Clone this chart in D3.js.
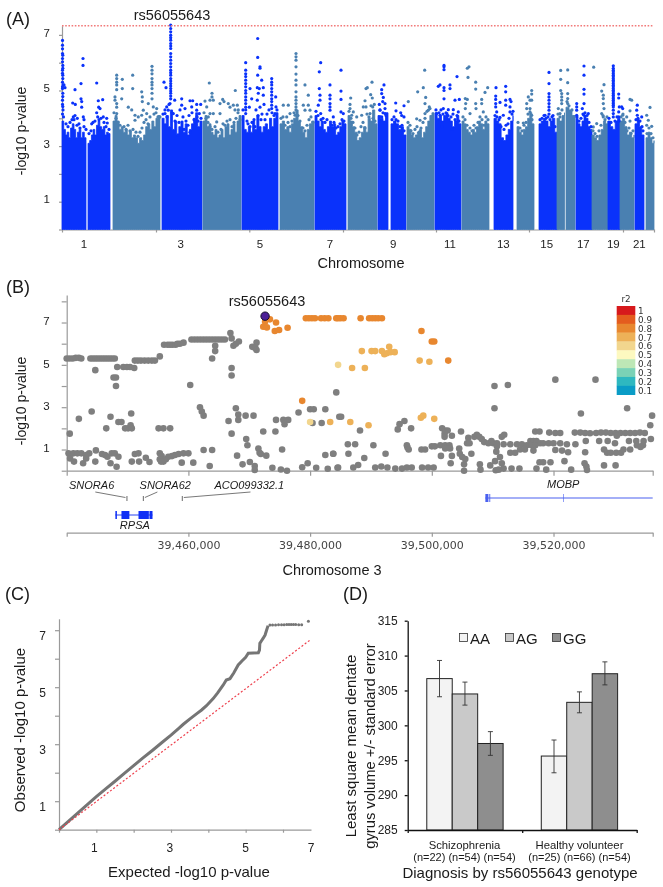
<!DOCTYPE html>
<html lang="en">

<head>
    <script src="https://d3js.org/d3.v7.min.js"></script>
    <meta charset="utf-8" />
    <style>
        body { margin: 0; background: #fff; }
        svg { display: block; font-family: "Liberation Sans", Arial, sans-serif; }
        .axis path, .axis line { stroke: #9a9a9a; stroke-width: 1.2; }
        .axis text { fill: #222; font-family: "Liberation Sans", Arial, sans-serif; }
    </style>
</head>

<body>
    <script>

        // ---- (A) Manhattan plot. Genome position is in units of about 5 Mb from the start of chr1
        const chromSegments = [
            [1, 0, 24], [1, 26, 48], [2, 51, 98], [3, 100, 140], [4, 141, 179], [5, 180, 216], [6, 218, 252],
            [7, 253, 284], [8, 286, 315], [9, 316, 326], [9, 329, 344], [10, 345, 372], [11, 373, 399],
            [12, 400, 427], [13, 432, 451], [14, 455, 472], [15, 477, 495], [16, 495, 502.5], [16, 504, 513],
            [17, 514, 530], [18, 530, 546], [19, 546, 558], [20, 558, 572], [21, 573, 582], [22, 584, 592]
        ];
        // top of the solid part of each segment, read left to right
        const segmentTops = [
            [3.9, 3.6, 3.4, 3.5, 3.3, 3.65, 3.8, 3.6, 3.3, 3.5, 3.6, 3.3, 3.5, 3.3, 3.2],
            [3.1, 3.2, 3.4, 3.6, 3.4, 3.75, 3.9, 3.7, 3.6, 3.7, 3.4, 3.5, 3.45, 3.3],
            [3.9, 4.1, 3.9, 3.6, 3.7, 3.5, 3.6, 3.4, 3.55, 3.3, 3.4, 3.3, 3.1, 3.3, 3.2, 3.4, 3.7, 3.8, 3.6, 3.9, 3.7, 4, 4.1, 3.9],
            [4.0, 3.8, 4.1, 3.7, 4.3, 3.6, 3.9, 3.4, 3.7, 3.9, 3.5, 3.8, 3.4, 3.6, 3.8, 4, 4.2, 3.7, 3.9, 3.6],
            [3.9, 4.1, 3.7, 3.8, 3.5, 3.4, 3.6, 3.3, 3.4, 3.6, 3.3, 3.7, 3.8, 3.4, 3.6, 3.8, 3.5, 3.9, 4.1, 3.7],
            [4.1, 3.6, 3.5, 3.7, 3.5, 3.9, 3.6, 4.1, 3.7, 3.5, 3.7, 3.8, 3.6, 4.0, 3.7, 4.0, 4.2, 4.1],
            [3.8, 3.9, 3.6, 3.7, 3.5, 3.8, 4, 4.3, 3.9, 3.7, 3.5, 3.3, 3.6, 3.8, 3.9, 3.7],
            [4.1, 3.9, 3.7, 3.9, 3.6, 3.5, 3.7, 3.9, 3.7, 3.8, 3.4, 3.5, 3.7, 3.9, 3.8, 3.6],
            [4.1, 3.9, 3.7, 3.5, 3.2, 3.3, 3.5, 3.7, 3.5, 4, 3.9, 4.3, 3.8, 3.7],
            [4.1, 4.0, 3.9, 4.2, 3.8],
            [3.8, 3.9, 3.8, 3.6, 3.7, 3.4, 3.3],
            [3.7, 3.6, 3.4, 3.3, 3.4, 3.5, 3.6, 3.3, 3.5, 3.7, 3.9, 4.1, 4.2, 3.9],
            [4.2, 4.0, 4.1, 3.9, 4.1, 4.2, 4, 3.9, 3.7, 3.9, 4.1, 3.8, 3.7],
            [3.9, 3.8, 3.6, 3.5, 3.4, 3.6, 3.5, 3.7, 3.9, 3.8, 3.6, 3.9, 3.8, 3.5],
            [4.0, 3.9, 3.8, 3.3, 3.2, 3.4, 3.6, 3.9, 4.1],
            [3.7, 3.5, 3.4, 3.6, 3.7, 4.0, 4.2, 3.8, 3.6],
            [3.8, 3.9, 4.0, 3.9, 3.7, 3.9, 4.0, 3.5, 3.3],
            [4.0, 3.9, 4.1, 4.2],
            [4.4, 4.3, 4.1, 3.9],
            [4, 3.8, 3.7, 3.9, 4.1, 4, 3.7, 3.6, 3.4],
            [3.4, 3.3, 3.2, 3.4, 3.6, 3.9, 3.8, 3.9],
            [3.9, 3.7, 3.6, 3.9, 4, 3.8],
            [3.9, 4.0, 3.7, 3.4, 3.5, 3.3, 3.4],
            [3.8, 3.9, 3.7, 3.4, 3.2],
            [3.3, 3.5, 3.3, 3.1, 3.2]
        ];
        const hitsBlue = [
            [.5, 6.8], [.5, 6.63], [.5, 6.33], [.8, 6.27], [.5, 6.03], [.8, 5.9], [.5, 5.73], [.8, 5.55], [.5, 5.3], [1, 5.2], [.5, 5.07], [.8, 4.9], [.5, 4.65], [1, 4.3], [.5, 4.15], [3, 5.1], [2, 5.2],
            [.5, 6.5], [.5, 6.15], [.8, 5.8], [.5, 5.62], [.8, 5.43], [.5, 5.13], [.8, 4.78], [.5, 4.5], [.8, 4.42], [1.5, 4.05],
            [13, 5.03], [21, 6.15], [21, 5.9], [19, 5.25], [19, 4.7], [19.7, 4.6], [19.7, 4.4], [10.7, 4.55], [13.3, 4.5], [13, 4.1], [11.3, 4.05], [15.3, 4], [21.3, 4.05], [22, 3.95],
            [34.7, 5.27], [40.7, 4.67], [36.3, 4.63], [36.7, 4.4], [38, 4.35], [34.7, 4.2], [35.7, 4.05], [44.7, 4], [41.3, 4.05], [29.7, 3.8], [45.3, 3.83],
            [108.7, 7.35], [108.7, 7.23], [108.7, 7.11], [108.7, 6.99], [108.7, 6.81], [108.7, 6.69], [108.7, 6.51], [108.7, 6.33], [108.7, 6.21], [108.7, 6.09], [108.7, 5.97], [108.7, 5.85], [108.7, 5.73], [108.7, 5.55], [108.7, 5.43], [108.7, 5.25], [108.7, 5.07], [108.7, 4.9], [108.7, 4.7],
            [108.7, 6.9], [108.7, 6.6], [108.7, 5.64], [108.7, 5.34], [108.7, 5.16], [108.7, 4.98], [108.7, 4.8],
            [102, 5.3], [104, 5.1], [112.7, 4.65], [119.7, 4.7], [128, 4.63], [130.7, 4.63], [134.7, 4.5], [138.7, 4.5], [104.7, 4.41], [108, 4.53], [106.3, 4.29], [103, 4.17], [111.3, 4.17], [119.7, 4.47], [123, 4.35], [129.7, 4.41], [134.7, 4.29], [137.3, 4.17],
            [183.7, 6], [183.7, 5.73], [183.7, 5.6], [183.7, 5.5], [183.7, 5.37], [183.7, 5.25], [183.7, 5.13], [183.7, 5], [183.7, 4.9], [183.7, 4.77], [183.7, 4.65], [183.7, 4.53], [183.7, 4.4], [183.7, 4.3], [183.7, 4.17],
            [195.7, 6.87], [195.7, 6.19], [198, 5.85], [198, 5.8], [195.7, 5.55], [199.7, 5.37], [195.3, 5.1], [197.3, 5.07], [196.3, 4.9], [201.3, 5.1], [201.3, 4.83], [195.3, 4.65], [188, 5.07], [189.7, 4.7], [187.3, 4.4], [198, 4.4], [202, 4.5], [194, 4.3],
            [209.7, 5.43], [209.7, 5.3], [209.7, 5.2], [209.7, 5.07], [209.7, 4.95], [209.7, 4.83], [209.7, 4.7], [209.7, 4.6], [209.7, 4.47], [209.7, 4.35], [213.7, 4.77], [214, 4.41], [213, 4.17],
            [258.7, 6], [257.3, 5.67], [257.3, 5.07], [268, 5.2], [258, 4.83], [268, 4.83], [268, 4.7], [268, 4.53], [256.3, 4.47], [268, 4.41], [258, 4.65], [258.7, 4.17], [271.3, 4.05], [268, 4.29],
            [279, 5.73], [279, 4.98], [279, 4.68], [279, 4.23], [281.3, 4.17],
            [319.7, 5.03], [319.7, 4.89], [321.3, 4.75], [322, 5.2], [320.7, 4.6], [317.3, 4.5], [323, 4.53], [323, 4.35], [318, 4.29], [319.7, 4.05], [323, 4.17],
            [333.7, 4.55], [342, 4.45], [334, 4.27], [338.7, 4.2], [339.7, 4.1], [342, 4.05],
            [382, 5.9], [382, 5.85], [382, 5.75], [376.3, 5.15], [378, 5.2], [382, 5.1], [382, 5], [388, 5.2], [388, 5.07], [395, 5.5], [382, 4.7], [393, 4.65], [397.3, 4.68], [381.3, 4.35], [386.3, 4.31], [391.3, 4.31], [396.3, 4.23], [374.7, 4.17], [378, 4.11],
            [434, 5.1], [443.7, 5.15], [443.7, 4.95], [433.7, 4.8], [433.7, 4.68], [433.7, 4.53], [433.7, 4.41], [438, 4.57], [443.7, 4.65], [448, 4.68], [449, 4.6], [443.7, 4.47], [448, 4.41], [434.7, 4.23], [448, 4.23], [441.3, 4.11], [438, 4.03],
            [487, 5.65], [487, 5.25], [487, 4.89], [487, 4.77], [487, 4.65], [487, 4.53], [487, 4.41], [487, 4.29], [487, 4.15], [483, 4.11],
            [522, 5.88], [522, 5.55], [522, 5.04], [522, 4.87], [514.7, 4.53], [514.7, 4.41], [514.7, 4.29], [522, 4.53], [520.3, 4.35], [526.3, 4.17], [514.7, 4.11], [522, 4.11],
            [551.3, 5.89], [551.3, 5.73], [551.3, 5.61], [551.3, 5.49], [551.3, 5.37], [551.3, 5.25], [551.3, 5.13], [551.3, 5.01], [551.3, 4.89], [551.3, 4.77], [551.3, 4.65], [551.3, 4.53], [551.3, 4.41], [551.3, 4.29], [551.3, 4.17], [551.3, 4.05],
            [551.3, 5.8], [551.3, 5.67], [551.3, 5.55], [551.3, 5.43], [551.3, 5.31], [551.3, 5.19], [551.3, 5.07], [551.3, 4.95], [551.3, 4.83], [551.3, 4.71], [551.3, 4.59], [551.3, 4.47],
            [556.7, 4.87], [556.7, 4.73], [557.3, 4.41], [559.7, 4.41], [556.7, 4.23], [556.7, 4.05], [560.7, 4.35],
            [575.3, 4.47], [574.7, 4.29], [575.3, 4.11], [579.7, 4.05], [576.3, 3.93],
            // dots just above the solid part
            [4, 3.8], [6, 3.7], [8, 3.85], [10, 3.95], [12, 3.95], [15, 3.75], [17, 3.8], [18, 3.65], [22, 3.7], [24, 3.6], [27, 3.45], [29, 3.55], [31, 3.85], [33, 3.9], [37, 3.95], [39, 4], [42, 3.85], [44, 3.7], [47, 3.6],
            [101, 4.15], [103, 4.3], [105, 4.05], [107, 4.5], [110, 4.2], [113, 3.9], [115, 4.1], [117, 3.85], [118, 4.3], [121, 4.05], [124, 3.9], [126, 3.75], [127, 4.1], [130, 4.2], [132, 3.95], [135, 4.05], [136, 3.9], [139, 4.0], [122, 3.6], [116, 3.4], [128, 3.5],
            [181, 4.3], [185, 3.9], [186, 3.8], [190, 3.85], [192, 3.95], [196, 4.1], [199, 3.95], [200, 4.15], [203, 3.95], [205, 4.15], [207, 4.3], [210, 4.2], [212, 4.1], [215, 4.3], [193, 3.7], [188, 3.7],
            [254, 4.25], [256, 4.1], [259, 3.95], [261, 4], [263, 3.85], [265, 3.95], [270, 3.75], [272, 3.85], [274, 3.65], [276, 3.7], [278, 3.8], [280, 3.95], [282, 3.9],
            [318, 4.3], [321, 4.2], [324, 4.1], [330, 3.95], [332, 4.05], [334, 3.95], [336, 3.9], [338, 3.7], [340, 3.75], [342, 3.55],
            [374, 4.3], [377, 4.2], [379, 4.3], [381, 4.15], [384, 4.2], [386, 4.1], [389, 4.05], [391, 4.15], [393, 3.95], [395, 4.1], [397, 3.9], [380, 3.7], [390, 3.6],
            [433, 4.1], [435, 4.05], [437, 3.95], [439, 3.7], [442, 3.6], [444, 3.75], [446, 3.8], [447, 4.0], [450, 4.15], [451, 4.25],
            [478, 3.95], [480, 4], [482, 4.1], [484, 4], [486, 4.05], [488, 3.95], [490, 4.05], [491, 4.1], [493, 3.7],
            [515, 4.05], [517, 3.9], [519, 4], [521, 4.15], [523, 4.2], [525, 4.1], [527, 3.85], [529, 3.7],
            [547, 4], [549, 3.85], [553, 3.9], [555, 4.05], [557, 3.9],
            [574, 3.95], [576, 4], [578, 3.9], [580, 3.7], [581, 3.55]
        ];
        const hitsSteel = [
            [54.7, 5.55], [54.7, 5.43], [54.7, 5.3], [54.7, 5.2], [54.7, 5.03], [60.3, 5.4], [60.3, 5.07], [70.7, 5.55], [70.7, 5.07], [79.7, 4.95], [80.3, 4.77], [80.3, 4.6],
            [90, 5.87], [90, 5.73], [90, 5.6], [90, 5.43], [90, 5.3], [90, 5.2], [90, 5.07], [90, 4.9], [90, 4.7], [53, 4.77], [53, 4.65], [54.7, 4.53], [54.7, 4.4], [54.7, 4.17],
            [59.7, 4.7], [66.3, 4.4], [69.7, 4.3], [86.3, 4.53], [94.7, 4.35], [91.3, 4.41], [81.3, 4.29], [73, 4.11], [84.7, 4.17], [79.7, 4.11], [73, 3.93], [76.3, 4.05],
            [147.3, 5.27], [150, 4.9], [150, 4.77], [148, 4.65], [143, 4.62], [151.3, 4.65], [160.7, 4.68], [162, 4.6], [158, 4.53], [173.3, 5], [166.3, 4.53], [168, 4.4], [171.3, 4.47], [175.3, 4.47], [173, 4.3], [176.3, 4.3], [144.7, 4.41], [148, 4.17], [146.3, 4.05], [151.3, 4.17], [158, 4.17], [154.7, 3.87],
            [234, 6.33], [234, 6.21], [234, 6.09], [234, 5.85], [234, 5.59], [234, 5.37], [234, 5.2], [234, 4.95], [234, 4.77], [234, 4.65], [234, 4.53], [234, 4.41], [234, 4.3], [243, 5.2], [246.3, 4.83], [221.3, 4.47], [226.3, 4.47], [241.3, 4.47], [246.3, 4.47], [243, 4.29], [248, 4.29], [228, 4.17], [224.7, 4.05], [233, 4.11],
            [288.7, 4.73], [288, 4.5], [288, 4.35], [304, 5.07], [305.3, 5.1], [310, 5.3], [308.7, 4.85], [310.3, 4.73], [312.3, 4.5], [303, 4.63], [304, 4.41], [310.7, 4.41], [301.3, 4.41], [299.7, 4.11], [308, 4.17], [291.3, 4.23], [289.7, 4.11], [294.7, 4.05],
            [346.3, 4.6], [355.7, 4.95], [361.3, 5.1], [362.7, 5.73], [363.7, 4.75], [363, 4.53], [367.3, 4.41], [366.3, 4.29], [363, 4.17], [348, 3.75], [354.7, 3.98], [358, 3.93],
            [405.3, 5.8], [407, 5.85], [406, 5.47], [413.7, 5.3], [413.7, 5.05], [423, 4.93], [425.7, 5.1], [403.3, 4.71], [405.3, 4.68], [403.7, 4.53], [403.3, 4.35], [413.7, 4.53], [419.7, 4.68], [419.7, 4.53], [414, 4.35], [421.3, 4.23], [408, 4.17],
            [469.7, 5], [469.7, 4.87], [466.3, 4.77], [468, 4.65], [464.7, 4.53], [469.7, 4.65], [464.7, 4.35], [468, 4.23], [469.7, 4.11], [461.3, 3.83],
            [498.7, 5.72], [498.7, 5.4], [498.7, 5.0], [499.7, 4.89], [499.7, 4.77], [499.7, 4.65], [499.7, 4.53], [496.3, 4.35], [498, 4.17],
            [505.7, 5.74], [505.7, 5.28], [505.7, 4.89], [505.7, 4.71], [505.7, 4.53], [505.7, 4.29], [505.7, 4.05],
            [531.7, 5.84], [542, 5.21], [539.7, 4.98], [541.3, 4.83], [541.3, 4.71], [541.3, 4.53], [542, 4.35], [539.7, 4.17], [534.7, 3.81], [531.3, 3.69], [541.3, 4.05],
            [568, 4.68], [569.7, 4.65], [560.7, 4.11], [568, 4.27], [564.7, 4.05], [568, 3.9],
            [588, 4.39], [584.7, 4.11], [586.3, 3.93], [584.7, 3.75], [589.7, 3.71],
            // dots just above the solid part
            [52, 4.2], [54, 4], [56, 3.85], [58, 3.75], [62, 3.7], [64, 3.6], [66, 3.75], [68, 3.55], [71, 3.6], [74, 3.5], [76, 3.35], [78, 3.5], [80, 3.65], [82, 3.85], [84, 3.95], [86, 3.8], [88, 4.05], [92, 4.15], [94, 4.2], [96, 4.05], [98, 4.05],
            [142, 4.2], [144, 4.0], [146, 3.85], [148, 3.7], [150, 3.6], [153, 3.7], [156, 3.5], [159, 3.6], [161, 3.8], [163, 3.75], [165, 3.9], [168, 3.95], [170, 3.7], [172, 3.85], [174, 4.0], [176, 4.2], [178, 3.95],
            [219, 4], [221, 4.05], [223, 3.75], [226, 3.85], [228, 3.7], [230, 3.9], [232, 4.2], [236, 4.1], [238, 3.9], [241, 3.65], [243, 3.55], [245, 3.75], [247, 3.95], [249, 4.05], [251, 3.85],
            [287, 4.25], [289, 4], [291, 3.85], [293, 3.65], [295, 3.4], [297, 3.5], [299, 3.7], [301, 3.85], [303, 3.65], [305, 4.15], [307, 4.05], [309, 4.45], [311, 4], [313, 3.9],
            [346, 3.85], [349, 3.55], [351, 3.45], [353, 3.6], [355, 3.7], [357, 3.5], [359, 3.65], [361, 3.85], [363, 4], [365, 4.25], [368, 4.35], [370, 4.05],
            [401, 4.05], [403, 3.95], [405, 3.75], [408, 3.65], [410, 3.55], [412, 3.75], [414, 3.65], [416, 3.85], [418, 4.05], [420, 3.95], [422, 3.75], [424, 4.05], [426, 3.95],
            [456, 3.85], [458, 3.65], [460, 3.55], [462, 3.75], [464, 3.85], [466, 4.15], [468, 4.35], [470, 3.95],
            [496, 4.15], [498, 4.05], [500, 4.3], [505, 4.6], [507, 4.45], [510, 4.3], [512, 4.05],
            [531, 3.55], [533, 3.45], [535, 3.35], [537, 3.55], [539, 3.75], [541, 4.1], [543, 3.95], [545, 4.05],
            [559, 4.05], [561, 4.15], [563, 3.85], [565, 3.55], [567, 3.65], [569, 3.45], [571, 3.55],
            [585, 3.45], [587, 3.65], [589, 3.45], [591, 3.3]
        ];
        const chromLabelNames = [1, 3, 5, 7, 9, 11, 13, 15, 17, 19, 21];
        const chromLabelPos = [22, 118.7, 198, 268, 331.3, 388, 441.3, 484.7, 521.3, 551.3, 577.3];
        const genomeTicks = [0, 94, 187.3, 281, 374, 467, 561, 592];
        const genomeWideLine = 7.33;

        // ---- (B) regional plot, positions in kb from 39,440,000
        const locusGray = [
            [0, 5.3], [.5, 5.3], [1, 5.3], [1.5, 5.33], [2, 5.33], [2.4, 5.3], [3.9, 5.3], [4.3, 5.3], [4.7, 5.3], [5.1, 5.3], [5.5, 5.3], [5.9, 5.3], [6.3, 5.3], [6.7, 5.3], [7.1, 5.3], [7.5, 5.3], [7.9, 5.3],
            [4.7, 4.75], [8.3, 4.9], [9.3, 4.9], [9.9, 4.9], [10.4, 4.9], [11.1, 4.85], [7.7, 4.4], [8.1, 4.4], [8.1, 4],
            [11.2, 5.2], [11.7, 5.2], [12.2, 5.2], [12.8, 5.2], [13.4, 5.2], [14, 5.2], [14.5, 5.2], [15.3, 5.4],
            [16, 5.95], [16.6, 5.95], [17, 5.95], [17.4, 5.95], [17.9, 5.95], [18.2, 6], [18.6, 6], [19.2, 6.05],
            [20.5, 6.2], [21, 6.2], [21.5, 6.2], [22, 6.2], [22.5, 6.2], [23, 6.2], [23.5, 6.2], [24, 6.2], [24.5, 6.2], [25, 6.2], [25.5, 6.2], [26, 6.2], [26.9, 6.5], [27.1, 6.25],
            [27.4, 5.9], [27.8, 6], [28.3, 6.1], [31.2, 6.05], [30.5, 5.85], [31, 5.8], [31.2, 5.7], [24.4, 5.9], [24.4, 5.65], [23.9, 5.3], [27.1, 4.85], [27.1, 4.5], [20.3, 4.05],
            [21.9, 3], [22.2, 2.8], [22.5, 2.6], [27.8, 2.95], [28.2, 2.65], [28.2, 2.4], [29.4, 2.6], [30.7, 2.6], [26.6, 2.35], [27.1, 1.75], [29.5, 1.5], [29.7, 1.2], [32.3, 1.85], [34.3, 1.85],
            [34.4, 2.4], [35.6, 2.4], [36.4, 2.4], [35.8, 2.2], [38.1, 2.75], [40, 2.9], [40.6, 2.9], [42.5, 2.9], [40.4, 2.25], [41.9, 2.25], [44.8, 2.55], [44.3, 3.7],
            [.5, 1.75], [2, 2.45], [4.1, 2.8], [6.5, 2], [7.2, 2.55], [8.5, 2.3], [9, 2.3], [10.6, 2.7], [9.6, 2], [10.1, 2], [10.5, 2.15], [10.7, 2], [15.1, 2], [15.9, 2], [17, 2],
            [.3, .82], [1.1, .82], [1.75, .82], [2.4, .82], [3.7, .82], [3.2, .74], [4.8, .96], [5.8, .79], [6.3, .74], [6.7, .66], [7.4, .82], [7.9, .82], [8.5, .66], [.55, .58], [1.2, .43], [2.7, .35], [3.2, .58], [4.7, .43], [7.2, .35], [8.2, .19], [10.7, .43], [11.2, .79], [11.8, .82], [11.9, .43], [13, .61], [13.6, .41],
            [15.3, .82], [15.6, .69], [15.3, .54], [15.9, .43], [16.3, .54], [16.7, .66], [17.3, .69], [17.8, .74], [18.4, .79], [19.2, .82], [20, .82], [15.5, .43], [18.9, .38], [20.8, .38],
            [22.5, .98], [23.9, .98], [23.5, .22], [28, .71], [28.9, .3], [30.1, .41], [30.9, .22], [30.9, .03], [31.5, 1.05], [31.7, .85], [31.9, .79], [32.8, .71], [33.8, .14], [35.2, .06], [36.2, 0], [35.4, 1], [38.7, .16], [39.6, .35], [41, .14], [42.5, .74], [42.9, .09], [43.8, .8], [44.5, .14],
            [70.3, 4], [72.5, 4.05], [80.3, 4.3], [86.9, 4.3], [70.3, 2.95], [84.5, 2.7], [92.1, 2.95], [96.2, 2.6], [95.9, 2.15],
            [45.1, 2.55], [48.2, 1.9], [55.5, 2.35], [54.7, 2.2], [54.4, 1.95], [56.6, 2], [46.2, 1.25], [47.4, 1.25], [50.4, 1.2], [43.8, .8], [46.3, .8], [48.9, .6], [52.4, .8],
            [55.9, 1.2], [56, 1.1], [56.2, 1], [58.3, 1], [58.9, 1], [60, 1.15], [60.5, 1.15], [61.4, 1.2], [62.2, 1.2], [62.9, 1.2], [62.2, 1.05], [63, 1.05], [64.5, 1.05], [61.5, .7], [63.3, .7], [64.6, .8], [65, .65], [65.5, .55], [66.5, .8], [63.1, .35], [65.3, .3], [65.3, 0],
            [61.7, 2], [62.2, 1.9], [62.6, 1.9], [62.1, 1.75], [62.1, 1.6], [63.3, 1.65], [64.8, 1.85], [66, 1.55], [65.8, 1.3], [66.2, 1.3],
            [67, 1.6], [67.4, 1.7], [67.8, 1.6], [68.2, 1.5], [68.6, 1.35], [69.3, 1.3], [69.8, 1.4], [70.1, 1.3], [70.7, 1.3], [71.5, 1.6], [71.9, 1.7], [70.7, 1.15], [70.6, .9], [71.2, .65], [71.8, 1.25], [72.9, 1.25], [74, 1.25], [74.8, 1.25], [75.6, 1.2],
            [72.9, .85], [73.7, .85], [74.5, 1], [75.3, 1], [76.7, .95], [76.2, 1.4], [76.7, 1.4], [77.2, 1.4], [77.8, 1.3], [78.3, 1.3], [79.2, 1.3], [80, 1.3], [81.1, 1.3], [82.2, 1.25], [83.6, 1.25], [76.4, 1.2], [77, 1.2],
            [77, 1.85], [77.7, 1.85], [79.3, 1.8], [80.3, 1.78], [81.1, 1.78], [83.5, 1.8], [84.4, 1.8], [85.2, 1.78], [86, 1.77], [87, 1.78], [87.8, 1.8], [88.6, 1.8], [89.4, 1.78], [90.2, 1.78], [91, 1.78], [91.8, 1.78], [92.6, 1.78], [93.4, 1.78], [94.2, 1.8], [95, 1.78], [90.4, 1.65], [96, 1.5],
            [85.3, 1.4], [87.5, 1.4], [88.9, 1.4], [90.1, 1.3], [92.4, 1.4], [93.6, 1.4], [94.8, 1.4], [93.7, 1.2], [94.7, 1.2], [94.3, 1.12], [88.3, 1], [88.8, .85], [90.3, .85], [91.1, .85], [91.5, 1], [92.6, 1], [89.4, .85],
            [80.3, .98], [81.4, .95], [82.4, .87], [85.2, .87], [67.9, .3], [68, .05], [69.6, .25], [70.4, .45], [70.5, .02], [71.5, .35], [71.8, .1], [71, .05],
            [73.1, .1], [74.4, .1], [77.2, .1], [77.7, .4], [78.3, .4], [78.8, .05], [79.5, .4], [81.8, .45], [82.9, .05], [85.1, .35], [85.4, .2], [85.5, .03], [88.3, .25], [90.2, .25],
            [44.6, .15], [47.1, .15], [47.9, .27], [50.7, .15], [51.7, .2], [52.7, .15], [54, .1], [55.1, .1], [55.9, .15], [56.7, .15], [58.4, .15], [59.4, .15], [60.3, .15]
        ];
        // kb, -log10 p, r2 bin
        const locusLD = [
            [32.6, 7.04, .8], [33.4, 7.15, .8], [34.4, 7, .8], [32.3, 6.8, .8], [32.9, 6.77, .8], [34.2, 6.6, .8], [34.9, 6.65, .8], [36.3, 6.75, .8],
            [39.3, 7.2, .8], [39.8, 7.2, .8], [40.3, 7.2, .8], [40.8, 7.2, .8], [41.8, 7.2, .8], [42.4, 7.2, .8], [43, 7.2, .8], [44.3, 7.2, .8], [44.6, 7.2, .8], [45, 7.2, .8], [45.5, 7.2, .8], [48.3, 7.2, .8], [49.7, 7.2, .8], [50.2, 7.2, .8], [50.7, 7.2, .8], [51.2, 7.2, .8], [51.8, 7.2, .8],
            [58.3, 6.6, .8], [60, 6.1, .8], [60.4, 6.1, .8], [48.5, 5.65, .7], [50.1, 5.65, .7], [50.7, 5.65, .7], [51.8, 5.65, .7], [52.2, 5.5, .7], [52.6, 5.55, .7], [53, 5.85, .7], [53.2, 5.6, .7], [53.9, 5.6, .7],
            [58, 5.2, .7], [59.6, 5.15, .7], [62.7, 5.2, .8], [44.6, 5, .6], [46.9, 4.85, .7], [49, 4.85, .7],
            [58.2, 2.5, .7], [58.6, 2.6, .7], [60.4, 2.45, .7], [46.6, 2.3, .7], [49.6, 2.15, .7], [43.3, 2.3, .7], [40, 2.3, .6], [38.7, 3.3, .8]
        ];
        const leadSnp = { name: "rs56055643", kb: 32.6, p: 7.3 };
        const locusTicksKb = [0, 20, 40, 60, 80, 96.3];
        const coordLabels = ["", "39,460,000", "39,480,000", "39,500,000", "39,520,000", ""];
        const r2Bins = [1, .9, .8, .7, .6, .5, .4, .3, .2, .1];
        const r2Colors = ["#d7191c", "#e45c1e", "#e8872f", "#edb158", "#f2d68e", "#fdf9c0", "#bde7b6", "#7ad2b6", "#2eb8c0", "#0a9cc6"];
        const smallGenes = ["SNORA6", "SNORA62", "ACO099332.1"];
        const smallGeneKb = [9.9, 12.6, 19];
        const smallGeneLabelKb = [4.1, 16.2, 30];
        const smallGeneLeaderKb = [4.7, 14.9, 30.2];
        const rpsaSpan = [8, 14.1];
        const rpsaExons = [[8, 8.25], [9, 10.3], [11.8, 13.5], [13.6, 14.1]];
        const mobpSpan = [68.8, 96.3];
        const mobpExons = [[68.8, 69.3], [69.45, 69.6], [81.6, 81.7]];

        // ---- (C) QQ plot
        const qqExpected = [0, .25, .5, .75, 1, 1.25, 1.5, 1.75, 2, 2.25, 2.5, 2.75, 3, 3.2, 3.33, 3.5, 3.7, 3.82, 3.95, 4.13, 4.25, 4.4, 4.48, 4.58, 4.68, 4.8, 4.9, 5, 5.07, 5.2, 5.34, 5.37, 5.38, 5.42, 5.47, 5.52, 5.56, 5.6];
        const qqObserved = [0, .29, .58, .87, 1.16, 1.43, 1.7, 1.98, 2.25, 2.52, 2.78, 3.05, 3.32, 3.55, 3.7, 3.88, 4.08, 4.2, 4.35, 4.6, 4.8, 5.08, 5.25, 5.3, 5.5, 5.78, 5.92, 6.05, 6.19, 6.2, 6.21, 6.3, 6.54, 6.62, 6.72, 6.83, 7, 7.16];
        const qqTailExpected = [5.65, 5.72, 5.8, 5.88, 5.96, 6.03, 6.1, 6.16, 6.22, 6.28, 6.34, 6.42, 6.5, 6.68];
        const qqTailObserved = [7.18, 7.18, 7.18, 7.19, 7.19, 7.19, 7.2, 7.2, 7.2, 7.2, 7.2, 7.19, 7.19, 7.31];
        const qqReference = [[0, 0], [6.72, 6.65]];
        const qqXLabels = ["1", "3", "5", "7"];
        const qqXLabelPos = [.95, 2.97, 5, 6.75];

        // ---- (D) bars
        const diagnoses = ["Schizophrenia", "Healthy volunteer"];
        const diagnosisCounts = ["(n=22) (n=54) (n=54)", "(n=25) (n=66) (n=54)"];
        const genotypes = ["AA", "AG", "GG"];
        const genotypeFill = ["#f3f3f3", "#c9c9c9", "#8e8e8e"];
        const lsMeans = [[306.7, 304.5, 297.4], [295.6, 303.3, 307.4]];
        const errLow = [[304.1, 302.9, 295.7], [293.2, 301.8, 305.8]];
        const errHigh = [[309.3, 306.2, 299.1], [297.9, 304.8, 309.1]];

        const w = 663;
        const h = 887;

        const svg = d3.select("body")
            .append("svg")
            .attr("width", w)
            .attr("height", h)
            .style("filter", "blur(0.3px)");

        function addText(x, y, str, size, opts = {}) {
            return svg.append("text")
                .attr("x", x)
                .attr("y", y)
                .attr("text-anchor", opts.anchor || "middle")
                .attr("transform", opts.rotate ? "rotate(-90," + x + "," + y + ")" : null)
                .style("font-size", size + "px")
                .style("font-style", opts.italic ? "italic" : null)
                .style("font-family", opts.family || null)
                .style("fill", opts.fill || "#1a1a1a")
                .text(str);
        }

        // ---------- panel A
        const xA = d3.scaleLinear().domain([0, 592]).range([62, 654]);
        const yA = d3.scaleLinear().domain([0, 7.33]).range([229.5, 25.7]);
        const chromColor = c => c % 2 ? "#0a32fb" : "#4a80b1";

        svg.append("g").attr("class", "axis")
            .attr("transform", "translate(" + xA(0) + ",0)")
            .call(d3.axisLeft(yA).tickValues(d3.range(0, 8)).tickSize(3).tickSizeOuter(0).tickFormat(d => d % 2 ? d : ""))
            .selectAll("text").style("font-size", "11.5px").attr("dx", "-6").attr("dy", "0.1em");
        svg.append("g").attr("class", "axis")
            .attr("transform", "translate(0," + yA(0) + ")")
            .call(d3.axisBottom(xA).tickValues(genomeTicks).tickSize(3).tickSizeOuter(0).tickFormat(""));

        const topArea = d3.area().curve(d3.curveStepAfter).x(d => xA(d[0])).y0(yA(0)).y1(d => yA(d[1]));
        svg.append("g").selectAll("path")
            .data(chromSegments)
            .join("path")
            .attr("fill", d => chromColor(d[0]))
            .attr("stroke", d => chromColor(d[0]))
            .attr("stroke-width", 0.8)
            .attr("d", (d, i) => {
                const tops = segmentTops[i];
                const pos = d3.scaleLinear().domain([0, tops.length - 1]).range([d[1], d[2]]);
                return topArea(tops.map((t, k) => [pos(k), t]));
            });

        svg.append("g").selectAll("circle").data(hitsSteel).join("circle")
            .attr("cx", d => xA(d[0])).attr("cy", d => yA(d[1])).attr("r", 1.6).attr("fill", "#4a80b1");
        svg.append("g").selectAll("circle").data(hitsBlue).join("circle")
            .attr("cx", d => xA(d[0])).attr("cy", d => yA(d[1])).attr("r", 1.6).attr("fill", "#0a32fb");

        svg.append("line")
            .attr("x1", xA(0)).attr("x2", xA(592))
            .attr("y1", yA(genomeWideLine)).attr("y2", yA(genomeWideLine))
            .attr("stroke", "#f27a7a").attr("stroke-width", 1.5).attr("stroke-dasharray", "1.6,1.6");

        svg.append("g").selectAll("text").data(chromLabelNames).join("text")
            .attr("x", (d, i) => xA(chromLabelPos[i]))
            .attr("y", 248)
            .attr("text-anchor", "middle")
            .style("font-size", "11.5px")
            .style("fill", "#222")
            .text(d => d);

        addText(6, 25, "(A)", 18, { anchor: "start" });
        addText(172, 20, "rs56055643", 14.5);
        addText(26, 131, "-log10 p-value", 14, { rotate: true });
        addText(361, 268, "Chromosome", 14.5);

        // ---------- panel B
        const xB = d3.scaleLinear().domain([0, 96.3]).range([66.7, 652.7]);
        const yB = d3.scaleLinear().domain([0, 8.3]).range([470.7, 295]);
        const r2Color = d3.scaleOrdinal().domain(r2Bins).range(r2Colors);

        svg.append("g").attr("class", "axis")
            .attr("transform", "translate(" + xB(0) + ",0)")
            .call(d3.axisLeft(yB).tickValues(d3.range(0, 9)).tickSize(5).tickSizeOuter(0).tickFormat(d => d % 2 && d < 8 ? d : ""))
            .selectAll("text").style("font-size", "11.5px").attr("dx", "-9").attr("dy", "0.2em");
        svg.append("g").attr("class", "axis")
            .attr("transform", "translate(0," + yB(0) + ")")
            .call(d3.axisBottom(xB).tickValues(locusTicksKb).tickSize(5).tickSizeOuter(0).tickFormat(""));

        svg.append("g").selectAll("circle").data(locusGray).join("circle")
            .attr("cx", d => xB(d[0])).attr("cy", d => yB(d[1])).attr("r", 3.3).attr("fill", "#7f7f7f");
        svg.append("g").selectAll("circle").data(locusLD).join("circle")
            .attr("cx", d => xB(d[0])).attr("cy", d => yB(d[1])).attr("r", 3.3).attr("fill", d => r2Color(d[2]));
        svg.append("circle")
            .attr("cx", xB(leadSnp.kb)).attr("cy", yB(leadSnp.p)).attr("r", 4.2)
            .attr("fill", "#4b1f96").attr("stroke", "#15102a").attr("stroke-width", 1);

        addText(6, 293, "(B)", 18, { anchor: "start" });
        addText(267, 306, leadSnp.name, 14.5);
        addText(26, 401, "-log10 p-value", 14, { rotate: true });

        // gene track
        smallGenes.forEach((g, i) => {
            addText(xB(smallGeneLabelKb[i]), 489, g, 11, { italic: true });
            svg.append("line")
                .attr("x1", xB(smallGeneLeaderKb[i])).attr("y1", 492)
                .attr("x2", xB(smallGeneKb[i]) + (i ? 1.5 : -1.5)).attr("y2", 497.5)
                .attr("stroke", "#555").attr("stroke-width", 0.8);
            svg.append("line")
                .attr("x1", xB(smallGeneKb[i])).attr("x2", xB(smallGeneKb[i]))
                .attr("y1", 496).attr("y2", 501)
                .attr("stroke", "#777").attr("stroke-width", 1.1);
        });

        svg.append("line").attr("x1", xB(rpsaSpan[0])).attr("x2", xB(rpsaSpan[1]))
            .attr("y1", 515).attr("y2", 515).attr("stroke", "#2a45f0").attr("stroke-width", 1);
        svg.append("g").selectAll("rect").data(rpsaExons).join("rect")
            .attr("x", d => xB(d[0])).attr("width", d => xB(d[1]) - xB(d[0]))
            .attr("y", 511).attr("height", 8).attr("fill", "#0f2ff5");
        addText(xB(11.2), 529, "RPSA", 11, { italic: true });

        svg.append("line").attr("x1", xB(mobpSpan[0])).attr("x2", xB(mobpSpan[1]))
            .attr("y1", 498).attr("y2", 498).attr("stroke", "#4a60f0").attr("stroke-width", 1.1);
        svg.append("g").selectAll("rect").data(mobpExons).join("rect")
            .attr("x", d => xB(d[0])).attr("width", d => xB(d[1]) - xB(d[0]))
            .attr("y", 494).attr("height", 8).attr("fill", "#4a60f0");
        addText(xB(81.6), 488, "MOBP", 11, { italic: true });

        svg.append("g").attr("class", "axis")
            .attr("transform", "translate(0,532.7)")
            .call(d3.axisBottom(xB).tickValues(locusTicksKb).tickSize(4).tickSizeOuter(0).tickFormat((d, i) => coordLabels[i]))
            .selectAll("text")
            .style("font-size", "11px")
            .style("font-family", "'DejaVu Sans'")
            .style("fill", "#444")
            .attr("dy", "0.82em");
        addText(332, 575, "Chromosome 3", 14.5);

        // r2 key
        const keyY = d3.scaleBand().domain(r2Bins).range([306, 394.7]);
        svg.append("g").selectAll("rect").data(r2Bins).join("rect")
            .attr("x", 616.7).attr("width", 18.6)
            .attr("y", d => keyY(d)).attr("height", keyY.bandwidth() + 0.3)
            .attr("fill", d => r2Color(d));
        svg.append("g").selectAll("text").data(r2Bins).join("text")
            .attr("x", 638)
            .attr("y", d => keyY(d) + keyY.bandwidth() / 2 + 3.5)
            .style("font-size", "8.8px")
            .style("font-family", "'DejaVu Sans'")
            .style("fill", "#333")
            .text(d => d);
        addText(626, 302, "r2", 8.8, { family: "'DejaVu Sans'", fill: "#333" });

        // ---------- panel C
        const xC = d3.scaleLinear().domain([0, 6.75]).range([59, 311]);
        const yC = d3.scaleLinear().domain([0, 7.4]).range([829.7, 618.8]);

        svg.append("g").attr("class", "axis")
            .attr("transform", "translate(" + xC(0) + ",0)")
            .call(d3.axisLeft(yC).tickValues(d3.range(0, 8)).tickSize(4).tickSizeOuter(0).tickFormat(d => d % 2 ? d : ""))
            .selectAll("text").style("font-size", "12px").attr("dx", "-6").attr("dy", "0.75em");
        svg.append("g").attr("class", "axis")
            .attr("transform", "translate(0," + yC(0) + ")")
            .call(d3.axisBottom(xC).tickValues(d3.range(0, 7)).tickSize(3).tickSizeOuter(0).tickFormat(""));

        svg.append("g").selectAll("text").data(qqXLabels).join("text")
            .attr("x", (d, i) => xC(qqXLabelPos[i]))
            .attr("y", 852)
            .attr("text-anchor", "middle")
            .style("font-size", "12px")
            .style("fill", "#222")
            .text(d => d);

        const qqLine = d3.line().x(d => xC(d[0])).y(d => yC(d[1]));
        svg.append("path")
            .attr("d", qqLine(qqExpected.map((e, i) => [e, qqObserved[i]])))
            .attr("fill", "none").attr("stroke", "#757575").attr("stroke-width", 3);
        svg.append("path")
            .attr("d", qqLine(qqReference))
            .attr("fill", "none").attr("stroke", "#ee3f4c").attr("stroke-width", 1.2).attr("stroke-dasharray", "2,2");
        svg.append("g").selectAll("circle").data(qqTailExpected).join("circle")
            .attr("cx", d => xC(d)).attr("cy", (d, i) => yC(qqTailObserved[i])).attr("r", 1.5).attr("fill", "#757575");

        addText(5, 600, "(C)", 18, { anchor: "start" });
        addText(25, 730, "Observed -log10 p-value", 15, { rotate: true });
        addText(189, 877, "Expected -log10 p-value", 15);

        // ---------- panel D
        const xD = d3.scaleBand().domain(diagnoses).range([407.7, 636.7]);
        const xGeno = d3.scaleBand().domain(genotypes).range([0, xD.bandwidth()]).paddingOuter(0.75);
        const yD = d3.scaleLinear().domain([285, 315]).range([830, 620.7]);

        diagnoses.forEach((dx, i) => {
            const g = svg.append("g").attr("transform", "translate(" + xD(dx) + ",0)");
            g.selectAll("rect").data(genotypes).join("rect")
                .attr("x", d => xGeno(d))
                .attr("width", xGeno.bandwidth())
                .attr("y", (d, k) => yD(lsMeans[i][k]))
                .attr("height", (d, k) => yD(285) - yD(lsMeans[i][k]))
                .attr("fill", (d, k) => genotypeFill[k])
                .attr("stroke", "#222")
                .attr("stroke-width", 1);
            genotypes.forEach((gt, k) => {
                const cx = xGeno(gt) + xGeno.bandwidth() / 2;
                g.append("path")
                    .attr("d", "M" + (cx - 2.5) + "," + yD(errHigh[i][k]) + "h5M" + cx + "," + yD(errHigh[i][k]) + "V" + yD(errLow[i][k]) + "M" + (cx - 2.5) + "," + yD(errLow[i][k]) + "h5")
                    .attr("fill", "none").attr("stroke", "#333").attr("stroke-width", 0.9);
            });
            addText(xD(dx) + xD.bandwidth() / 2 + (i ? 0 : -0.5), 849, dx, 11.3);
            addText(xD(dx) + xD.bandwidth() / 2 + (i ? 0 : -0.5), 861, diagnosisCounts[i], 11);
        });

        const axisD = svg.append("g")
            .attr("transform", "translate(407.7,0)")
            .call(d3.axisLeft(yD).tickValues(d3.range(285, 320, 5)).tickSize(3).tickSizeOuter(0));
        axisD.selectAll("path, line").attr("stroke", "#111").attr("stroke-width", 1.3);
        axisD.selectAll("text").style("font-size", "12px").style("fill", "#222").style("font-family", "'Liberation Sans'").attr("dx", "-4");
        const axisDx = svg.append("g")
            .attr("transform", "translate(0,830)")
            .call(d3.axisBottom(d3.scaleLinear().domain([0, 2]).range([407.7, 636.7])).tickValues([0, 1, 2]).tickSize(3).tickSizeOuter(0).tickFormat(""));
        axisDx.selectAll("path, line").attr("stroke", "#111").attr("stroke-width", 1.3);

        // genotype key
        const keyX = d3.scaleOrdinal().domain(genotypes).range([459.5, 505.5, 552.5]);
        genotypes.forEach((gt, k) => {
            svg.append("rect")
                .attr("x", keyX(gt)).attr("y", 633.5).attr("width", 8).attr("height", 8)
                .attr("fill", genotypeFill[k]).attr("stroke", "#333").attr("stroke-width", 0.8);
            addText(keyX(gt) + 10.5, 644, gt, 15, { anchor: "start" });
        });

        addText(343, 600, "(D)", 18, { anchor: "start" });
        addText(356, 746, "Least square mean dentate", 15, { rotate: true });
        addText(375, 746, "gyrus volume +/- standard error", 14.7, { rotate: true });
        addText(520, 878, "Diagnosis by rs56055643 genotype", 15);

    </script>
</body>

</html>
